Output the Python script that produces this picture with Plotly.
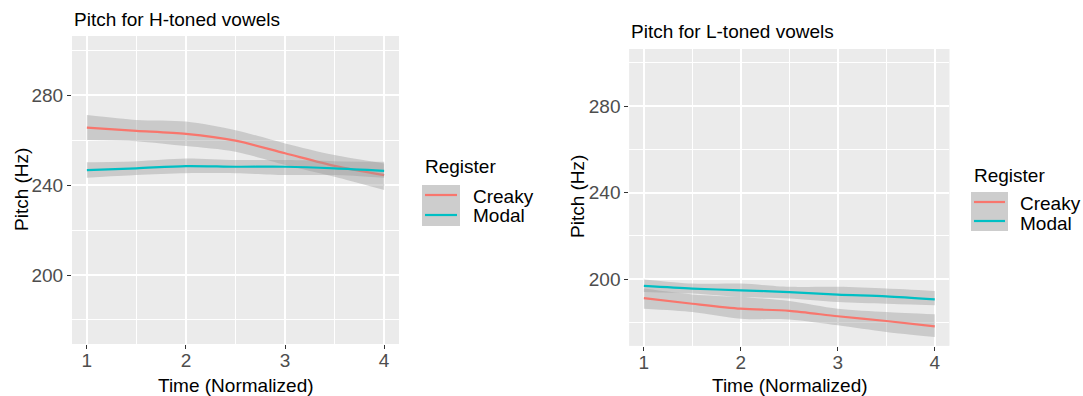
import plotly.graph_objects as go

# ---------------- data ----------------
time = [1, 1.5, 2, 2.5, 3, 3.5, 4]

# H-toned panel
h_creaky_mean = [265.6, 264.2, 262.8, 259.8, 254.2, 248.6, 244.5]
h_creaky_upper = [271.2, 269.0, 268.3, 264.5, 258.6, 253.4, 249.7]
h_creaky_lower = [260.1, 259.6, 257.4, 254.9, 249.0, 243.7, 237.8]
h_modal_mean = [246.7, 247.5, 248.5, 248.2, 248.2, 247.5, 246.4]
h_modal_upper = [250.2, 250.7, 251.9, 251.2, 251.2, 250.7, 250.4]
h_modal_lower = [243.3, 244.5, 245.3, 245.3, 244.5, 244.5, 243.3]

# L-toned panel
l_creaky_mean = [191.3, 188.7, 186.4, 185.4, 182.9, 180.7, 178.2]
l_creaky_upper = [195.7, 193.0, 191.8, 190.0, 186.4, 184.9, 183.8]
l_creaky_lower = [186.4, 184.9, 181.8, 181.4, 178.7, 175.6, 173.3]
l_modal_mean = [196.9, 195.7, 194.9, 194.1, 192.9, 192.1, 190.7]
l_modal_upper = [199.9, 198.0, 198.0, 196.5, 196.5, 195.7, 194.6]
l_modal_lower = [194.1, 193.4, 191.8, 191.1, 189.5, 188.7, 188.0]

registers = ["Creaky", "Modal"]
x_ticks = [1, 2, 3, 4]
y_ticks = [200, 240, 280]
panel_titles = ["Pitch for H-toned vowels", "Pitch for L-toned vowels"]
x_title = "Time (Normalized)"
y_title = "Pitch (Hz)"
legend_title = "Register"

# ---------------- style ----------------
W, H = 1083, 396
FONT = "Liberation Sans, Arial, sans-serif"
COLORS = {"Creaky": "#F8766D", "Modal": "#00BFC4"}
RIBBON = "rgba(153,153,153,0.4)"
PANEL_BG = "#EBEBEB"


def px(x):
    return x / W


def py(y):
    return 1 - y / H


fig = go.Figure()

panels = [
    ("x", "y", {"Creaky": (h_creaky_lower, h_creaky_upper, h_creaky_mean),
                "Modal": (h_modal_lower, h_modal_upper, h_modal_mean)}),
    ("x2", "y2", {"Creaky": (l_creaky_lower, l_creaky_upper, l_creaky_mean),
                  "Modal": (l_modal_lower, l_modal_upper, l_modal_mean)}),
]

for xa, ya, series in panels:
    for reg in registers:
        lo, up, mean = series[reg]
        fig.add_trace(go.Scatter(x=time, y=lo, xaxis=xa, yaxis=ya, mode="lines",
                                 line=dict(width=0, shape="spline", smoothing=0.8),
                                 showlegend=False, hoverinfo="skip"))
        fig.add_trace(go.Scatter(x=time, y=up, xaxis=xa, yaxis=ya, mode="lines",
                                 line=dict(width=0, shape="spline", smoothing=0.8),
                                 fill="tonexty", fillcolor=RIBBON,
                                 showlegend=False, hoverinfo="skip"))
        fig.add_trace(go.Scatter(x=time, y=mean, xaxis=xa, yaxis=ya, mode="lines",
                                 line=dict(width=2.2, color=COLORS[reg], shape="spline", smoothing=0.8),
                                 name=reg, showlegend=False))

# axis geometry (pixels)
left = dict(x0=72, x1=399, y0=36, y1=344)
right = dict(x0=629.3, x1=949.3, y0=49, y1=345.7)


def xaxis_cfg(g):
    return dict(domain=[px(g["x0"]), px(g["x1"])], range=[0.85, 4.15],
                tickvals=x_ticks, ticks="outside", ticklen=4, tickwidth=1.1,
                tickcolor="#333333", showgrid=True, gridcolor="white", gridwidth=1.5,
                zeroline=False, showline=False, ticklabelstandoff=-5,
                tickfont=dict(family=FONT, size=19, color="#4D4D4D"),
                minor=dict(dtick=0.5, tick0=1, showgrid=True, gridcolor="white",
                           gridwidth=0.8, ticks=""))


def yaxis_cfg(g):
    return dict(domain=[py(g["y1"]), py(g["y0"])], range=[169.3, 306.4],
                tickvals=y_ticks, ticks="outside", ticklen=4, tickwidth=1.1,
                tickcolor="#333333", showgrid=True, gridcolor="white", gridwidth=1.5,
                zeroline=False, showline=False,
                tickfont=dict(family=FONT, size=19, color="#4D4D4D"),
                minor=dict(dtick=20, tick0=0, showgrid=True, gridcolor="white",
                           gridwidth=0.8, ticks=""))


xa1 = xaxis_cfg(left); xa1["anchor"] = "y"
ya1 = yaxis_cfg(left); ya1["anchor"] = "x"
xa2 = xaxis_cfg(right); xa2["anchor"] = "y2"
ya2 = yaxis_cfg(right); ya2["anchor"] = "x2"

shapes = []
annotations = []

# panel backgrounds
for g in (left, right):
    shapes.append(dict(type="rect", xref="paper", yref="paper", layer="below",
                       x0=px(g["x0"]), x1=px(g["x1"]), y0=py(g["y1"]), y1=py(g["y0"]),
                       fillcolor=PANEL_BG, line=dict(width=0)))


def text(t, x, y, xanchor="left", angle=0, color="black"):
    annotations.append(dict(text=t, xref="paper", yref="paper", x=px(x), y=py(y),
                            xanchor=xanchor, yanchor="middle", showarrow=False,
                            textangle=angle, font=dict(family=FONT, size=19, color=color)))


# titles
text(panel_titles[0], 72, 19)
text(panel_titles[1], 629.3, 32)

# axis titles
text(x_title, 235.5, 385, xanchor="center")
text(x_title, 789.7, 385, xanchor="center")
text(y_title, 21, 190, xanchor="center", angle=-90)
text(y_title, 578, 197, xanchor="center", angle=-90)

# legends (drawn manually in ggplot style)
legends = [
    dict(title=(422.7, 166.7), box=(422, 460, 185, 226), lines=[195, 215],
         lx=(425, 457), tx=470.7, ty=[196.7, 216]),
    dict(title=(971.7, 175), box=(971, 1008, 192, 231), lines=[202, 221],
         lx=(974, 1005), tx=1018, ty=[203.7, 223]),
]
for lg in legends:
    text(legend_title, lg["title"][0], lg["title"][1])
    bx0, bx1, by0, by1 = lg["box"]
    shapes.append(dict(type="rect", xref="paper", yref="paper",
                       x0=px(bx0), x1=px(bx1), y0=py(by1), y1=py(by0),
                       fillcolor="#CDCDCD", line=dict(width=0)))
    for reg, ly, ty in zip(registers, lg["lines"], lg["ty"]):
        shapes.append(dict(type="line", xref="paper", yref="paper",
                           x0=px(lg["lx"][0]), x1=px(lg["lx"][1]), y0=py(ly), y1=py(ly),
                           line=dict(color=COLORS[reg], width=2.2)))
        text(reg, lg["tx"], ty)

fig.update_layout(
    width=W, height=H, margin=dict(l=0, r=0, t=0, b=0),
    paper_bgcolor="white", plot_bgcolor=PANEL_BG,
    xaxis=xa1, yaxis=ya1, xaxis2=xa2, yaxis2=ya2,
    shapes=shapes, annotations=annotations, showlegend=False,
)

fig.write_html("out.html")
